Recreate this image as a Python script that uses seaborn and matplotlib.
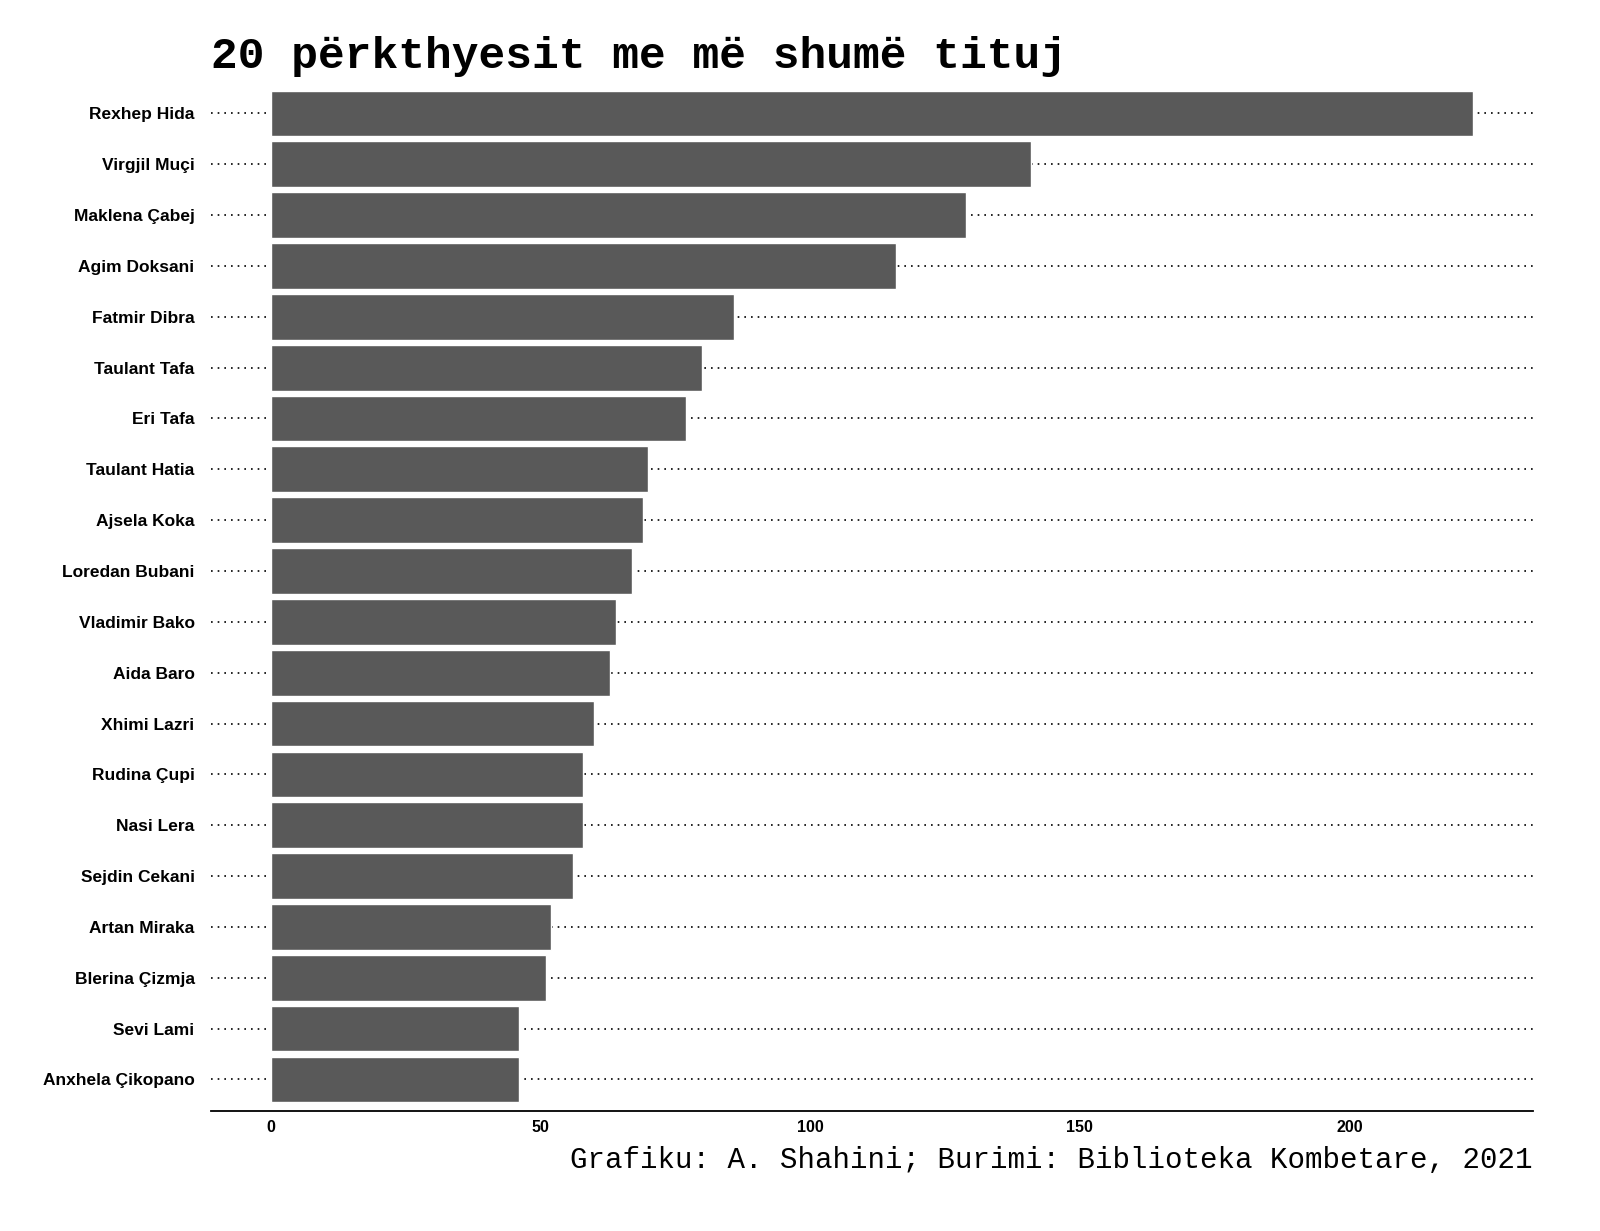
import matplotlib
matplotlib.use("Agg")
import matplotlib.pyplot as plt
import seaborn as sns
import pandas as pd

names = ["Rexhep Hida", "Virgjil Muçi", "Maklena Çabej", "Agim Doksani", "Fatmir Dibra",
         "Taulant Tafa", "Eri Tafa", "Taulant Hatia", "Ajsela Koka", "Loredan Bubani",
         "Vladimir Bako", "Aida Baro", "Xhimi Lazri", "Rudina Çupi", "Nasi Lera",
         "Sejdin Cekani", "Artan Miraka", "Blerina Çizmja", "Sevi Lami", "Anxhela Çikopano"]
tituj = [223, 141, 129, 116, 86, 80, 77, 70, 69, 67, 64, 63, 60, 58, 58, 56, 52, 51, 46, 46]

df = pd.DataFrame({"emri": names, "tituj": tituj})

sns.set_style("white")
plt.rcParams["text.color"] = "black"
plt.rcParams["xtick.color"] = "black"
plt.rcParams["ytick.color"] = "black"
fig = plt.figure(figsize=(16, 12.31), dpi=100)
ax = fig.add_axes([0.132, 0.0975, 0.826, 0.831])

# vijat me pika pas shiritave
for i in range(len(names)):
    ax.axhline(i, color="black", linestyle=(0, (1, 3)), linewidth=1.2, zorder=0)

sns.barplot(data=df, x="tituj", y="emri", color="#595959", saturation=1,
            width=0.9, ax=ax, zorder=2)

ax.set_xlim(-11, 234)
ax.set_ylim(len(names) - 0.5 + 0.12, -0.5)
ax.set_xticks([0, 50, 100, 150, 200])
ax.set_xlabel("")
ax.set_ylabel("")
for s in ["top", "right", "left"]:
    ax.spines[s].set_visible(False)
ax.spines["bottom"].set_color("black")
ax.spines["bottom"].set_linewidth(1.3)
ax.tick_params(axis="y", length=0, pad=12, labelcolor="black")
ax.tick_params(axis="x", length=3, color="black", labelcolor="black")
for lbl in ax.get_yticklabels() + ax.get_xticklabels():
    lbl.set_fontfamily("Liberation Sans")
    lbl.set_fontweight("bold")
for lbl in ax.get_yticklabels():
    lbl.set_fontsize(12.5)
for lbl in ax.get_xticklabels():
    lbl.set_fontsize(11.5)

fig.text(0.132, 0.945, "20 përkthyesit me më shumë tituj", fontfamily="Liberation Mono",
         fontweight="bold", fontsize=32, ha="left", va="baseline", color="black")
fig.text(0.958, 0.051, "Grafiku: A. Shahini; Burimi: Biblioteka Kombetare, 2021",
         fontfamily="Liberation Mono", fontsize=21, ha="right", va="baseline", color="black")

fig.savefig("out.png", dpi=100, facecolor="white")
